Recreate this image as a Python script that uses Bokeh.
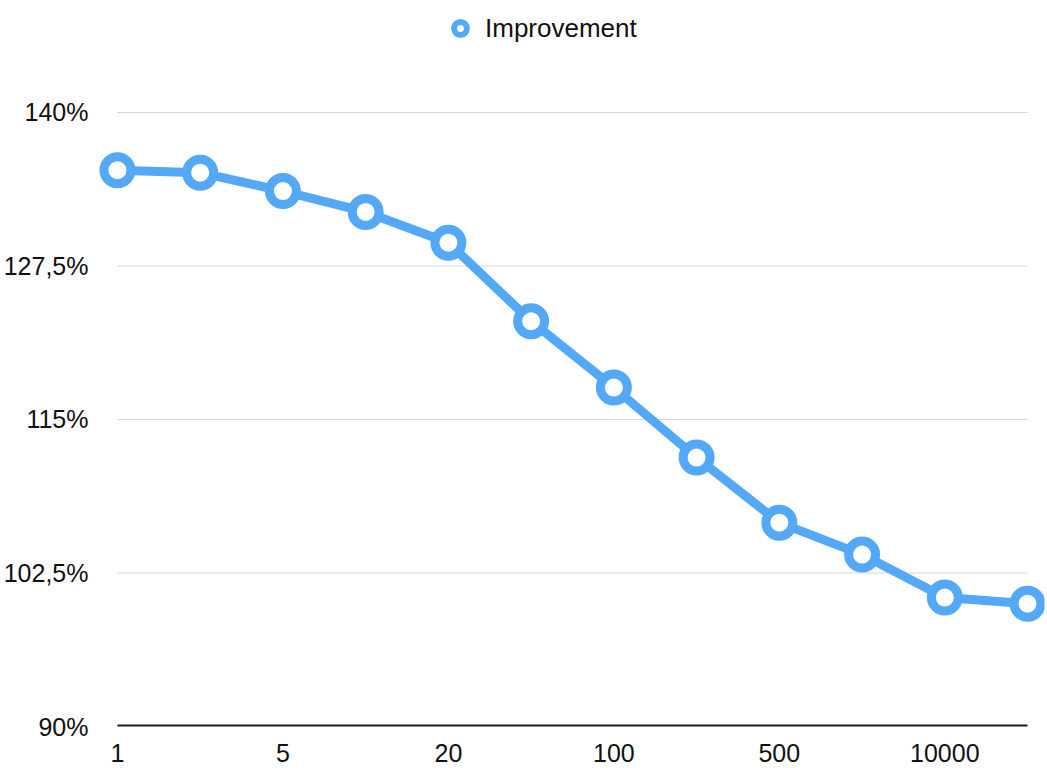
from bokeh.plotting import figure
from bokeh.models import Range1d, FixedTicker, Legend, LegendItem, ColumnDataSource
from bokeh.embed import file_html
from bokeh.resources import INLINE

# ---- data ----
x_labels = ["1", "2", "5", "10", "20", "50", "100", "200", "500", "1000", "10000", "100000"]
improvement = [135.3, 135.1, 133.6, 131.9, 129.4, 123.0, 117.6, 111.9, 106.6, 104.0, 100.5, 100.0]
y_ticks = [90, 102.5, 115, 127.5, 140]
y_tick_labels = ["90%", "102,5%", "115%", "127,5%", "140%"]
series_name = "Improvement"

BLUE = "#54A8F8"
FONT = "Liberation Sans"

xs = list(range(len(x_labels)))
n_last = xs[-1]

p = figure(width=1047, height=773, output_backend="svg", toolbar_location=None,
           x_range=Range1d(-0.2774, 11.205), y_range=Range1d(90, 149.12),
           min_border_left=92, min_border_right=3, min_border_top=0, min_border_bottom=47)
p.outline_line_color = None
p.xgrid.visible = False
p.ygrid.visible = False
p.background_fill_color = "white"
p.border_fill_color = "white"

# gridlines (drawn only across the data span)
grid_src = ColumnDataSource(dict(x0=[xs[0]] * (len(y_ticks) - 1), x1=[n_last] * (len(y_ticks) - 1),
                                 y=y_ticks[1:]))
p.segment(x0="x0", x1="x1", y0="y", y1="y", source=grid_src, line_color="#D6D6D6", line_width=1)
# baseline
p.segment(x0=[xs[0]], x1=[n_last], y0=[y_ticks[0]], y1=[y_ticks[0]], line_color="#1A1A1A", line_width=4)

src = ColumnDataSource(dict(x=xs, y=improvement))
# legend-style renderer (small ring), hidden beneath the main markers
legend_r = p.scatter("x", "y", source=src, size=6, line_width=6, line_color=BLUE, fill_color="white")
p.line("x", "y", source=src, line_color=BLUE, line_width=9, line_join="round")
p.scatter("x", "y", source=src, size=27, line_width=9, line_color=BLUE, fill_color="white")

legend = Legend(items=[LegendItem(label=series_name, renderers=[legend_r])],
                location=(350, 682), orientation="horizontal",
                glyph_width=32, glyph_height=32, label_standoff=9,
                padding=0, margin=0, spacing=0,
                border_line_color=None, background_fill_alpha=0,
                label_text_font=FONT, label_text_font_size="26px", label_text_color="#111111")
p.add_layout(legend)

# axes
p.xaxis.ticker = FixedTicker(ticks=xs[::2])
p.xaxis.major_label_overrides = {i: x_labels[i] for i in xs}
p.yaxis.ticker = FixedTicker(ticks=y_ticks)
p.yaxis.major_label_overrides = {t: l for t, l in zip(y_ticks, y_tick_labels)}
for ax in (p.xaxis[0], p.yaxis[0]):
    ax.axis_line_color = None
    ax.major_tick_line_color = None
    ax.minor_tick_line_color = None
    ax.major_tick_out = 0
    ax.major_tick_in = 0
    ax.minor_tick_out = 0
    ax.major_label_text_font = FONT
    ax.major_label_text_font_size = "25px"
    ax.major_label_text_color = "#111111"
p.xaxis.major_label_standoff = 17
p.yaxis.major_label_standoff = 6

open("out.html", "w").write(file_html(p, INLINE))
